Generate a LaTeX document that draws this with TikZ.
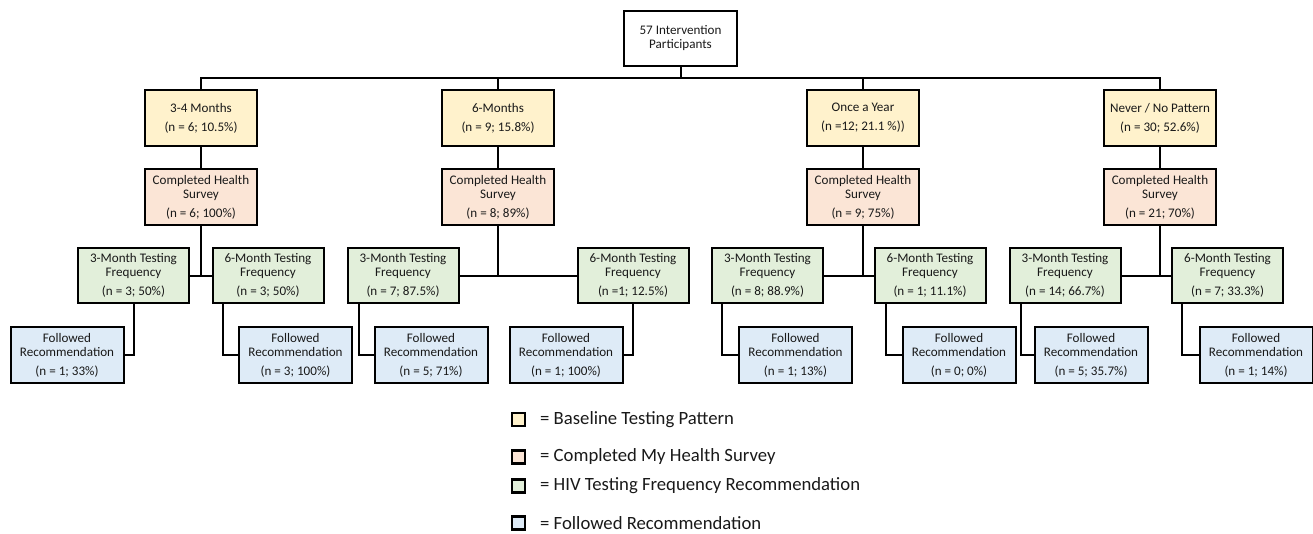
\documentclass[tikz,border=0pt]{standalone}
\usepackage{fontspec}
\setmainfont{Carlito}
\usetikzlibrary{calc}
\definecolor{cyel}{HTML}{FFF2CC}
\definecolor{cpea}{HTML}{FBE5D6}
\definecolor{cgrn}{HTML}{E2EFDA}
\definecolor{cblu}{HTML}{DEEBF7}
\tikzset{
  box/.style={draw=black, line width=2pt, inner sep=0pt, align=center,
    font=\fontsize{13.1}{14}\selectfont, text=black!90},
  topbox/.style={box, fill=white, minimum width=113pt, minimum height=55pt},
  basebox/.style={box, fill=cyel, minimum width=112pt, minimum height=56pt},
  survbox/.style={box, fill=cpea, minimum width=112pt, minimum height=56pt},
  freqbox/.style={box, fill=cgrn, minimum width=111pt, minimum height=55pt},
  follbox/.style={box, fill=cblu, minimum width=113pt, minimum height=56pt},
  conn/.style={line width=2pt},
  thinconn/.style={line width=1.4pt},
  legsq/.style={draw=black, line width=2.4pt, minimum width=13pt, minimum height=13pt, inner sep=0pt},
  legtxt/.style={anchor=west, inner sep=0pt, font=\fontsize{18.7}{21}\selectfont, text=black!90}
}
\begin{document}
\begin{tikzpicture}[x=1pt,y=-1pt]
\useasboundingbox (0,0) rectangle (1313,533);
% top
\node[topbox] (top) at (680.5,38.5) {57 Intervention\\Participants};
% level 1
\node[basebox] (b1) at (201,118) {3-4 Months\\[5pt](n = 6; 10.5\%)};
\node[basebox] (b2) at (498,118) {6-Months\\[5pt](n = 9; 15.8\%)};
\node[basebox] (b3) at (863,118) {Once a Year\\[5pt](n =12; 21.1 \%))};
\node[basebox] (b4) at (1160,118) {Never / No Pattern\\[5pt](n = 30; 52.6\%)};
% level 2
\node[survbox] (s1) at (201,197) {Completed Health\\Survey\\[5pt](n = 6; 100\%)};
\node[survbox] (s2) at (498,197) {Completed Health\\Survey\\[5pt](n = 8; 89\%)};
\node[survbox] (s3) at (863,197) {Completed Health\\Survey\\[5pt](n = 9; 75\%)};
\node[survbox] (s4) at (1160,197) {Completed Health\\Survey\\[5pt](n = 21; 70\%)};
% level 3
\node[freqbox] (g1a) at (133.5,275.5) {3-Month Testing\\Frequency\\[5pt](n = 3; 50\%)};
\node[freqbox] (g1b) at (268,275.5) {6-Month Testing\\Frequency\\[5pt](n = 3; 50\%)};
\node[freqbox] (g2a) at (403,275.5) {3-Month Testing\\Frequency\\[5pt](n = 7; 87.5\%)};
\node[freqbox] (g2b) at (633,275.5) {6-Month Testing\\Frequency\\[5pt](n =1; 12.5\%)};
\node[freqbox] (g3a) at (767.5,275.5) {3-Month Testing\\Frequency\\[5pt](n = 8; 88.9\%)};
\node[freqbox] (g3b) at (930,275.5) {6-Month Testing\\Frequency\\[5pt](n = 1; 11.1\%)};
\node[freqbox] (g4a) at (1065,275.5) {3-Month Testing\\Frequency\\[5pt](n = 14; 66.7\%)};
\node[freqbox] (g4b) at (1227.5,275.5) {6-Month Testing\\Frequency\\[5pt](n = 7; 33.3\%)};
% level 4
\node[follbox] (f1) at (67,355) {Followed\\Recommendation\\[5pt](n = 1; 33\%)};
\node[follbox] (f2) at (295.5,355) {Followed\\Recommendation\\[5pt](n = 3; 100\%)};
\node[follbox] (f3) at (431,355) {Followed\\Recommendation\\[5pt](n = 5; 71\%)};
\node[follbox] (f4) at (566,355) {Followed\\Recommendation\\[5pt](n = 1; 100\%)};
\node[follbox] (f5) at (795.5,355) {Followed\\Recommendation\\[5pt](n = 1; 13\%)};
\node[follbox] (f6) at (959,355) {Followed\\Recommendation\\[5pt](n = 0; 0\%)};
\node[follbox] (f7) at (1091,355) {Followed\\Recommendation\\[5pt](n = 5; 35.7\%)};
\node[follbox] (f8) at (1256,355) {Followed\\Recommendation\\[5pt](n = 1; 14\%)};
% connectors top
\coordinate (hub) at (680.5,78);
\draw[conn] (top.south) -- (hub);
\draw[thinconn] (b1.north) |- (b2.north |- hub) -- (b3.north |- hub) -| (b4.north);
\draw[line width=2.4pt] (b2.north |- hub) -- (b3.north |- hub);
\foreach \i in {2,3} \draw[thinconn] (b\i.north |- hub) -- (b\i.north);
% level1 -> level2
\foreach \i in {1,2,3,4} \draw[conn] (b\i.south) -- (s\i.north);
% level2 -> level3
\foreach \i in {1,2,3,4} {
  \draw[conn] (s\i.south) -- (s\i.south |- g\i a.east);
  \draw[conn] (g\i a.east) -- (g\i b.west);
}
% level3 -> level4
\draw[conn] (g1a.south) |- (f1.east);
\draw[conn] ($(g1b.south west)+(11,0)$) |- (f2.west);
\draw[conn] ($(g2a.south west)+(12,0)$) |- (f3.west);
\draw[conn] (g2b.south) |- (f4.east);
\draw[conn] ($(g3a.south west)+(11,0)$) |- (f5.west);
\draw[conn] ($(g3b.south west)+(12,0)$) |- (f6.west);
\draw[conn] ($(g4a.south west)+(12,0)$) |- (f7.west);
\draw[conn] ($(g4b.south west)+(11,0)$) |- (f8.west);
% legend
\node[legsq, fill=cyel] (l1) at (518.5,419.5) {};
\node[legsq, fill=cpea] (l2) at (518.5,457) {};
\node[legsq, fill=cgrn] (l3) at (518.5,486) {};
\node[legsq, fill=cblu] (l4) at (518.5,523) {};
\node[legtxt] (t1) at (540,419.5) {= Baseline Testing Pattern};
\node[legtxt] (t2) at (540,457) {= Completed My Health Survey};
\node[legtxt] (t3) at (540,486) {= HIV Testing Frequency Recommendation};
\node[legtxt] (t4) at (540,523) {= Followed Recommendation};
\end{tikzpicture}
\end{document}
